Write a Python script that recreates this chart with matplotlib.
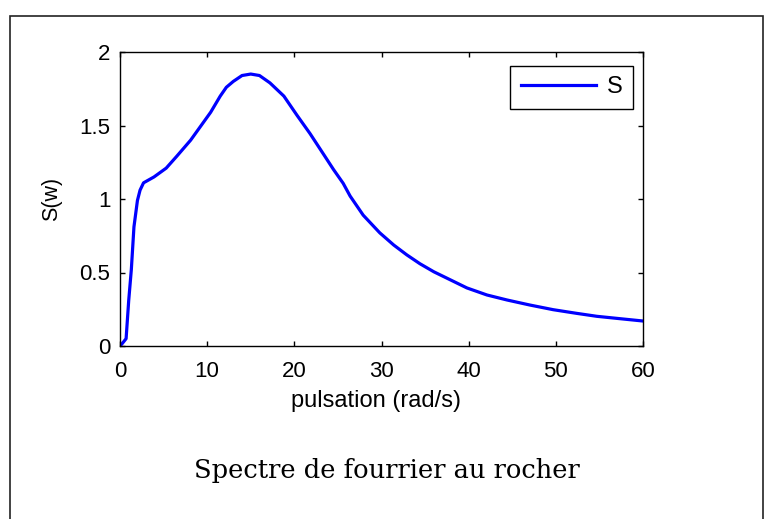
import matplotlib
matplotlib.use('Agg')
import matplotlib.pyplot as plt
from matplotlib.patches import Rectangle

# spectre de fourrier au rocher
w = [0, 0.3, 0.7, 1.0, 1.3, 1.6, 2.0, 2.3, 2.7, 3.9, 5.3, 6.5, 8.1, 10.4,
     11.5, 12.2, 13.0, 14.0, 15.0, 16.0, 17.2, 18.8, 20.3, 21.8, 23.4, 24.5,
     25.6, 26.4, 27.9, 29.8, 31.4, 32.9, 34.4, 36.0, 37.9, 39.8, 42.1, 44.4,
     47.0, 49.7, 52.4, 54.7, 57.0, 60]
S = [0, 0.02, 0.05, 0.31, 0.52, 0.81, 0.99, 1.06, 1.11, 1.15, 1.21, 1.29,
     1.40, 1.59, 1.70, 1.76, 1.80, 1.84, 1.85, 1.84, 1.79, 1.70, 1.57, 1.445,
     1.30, 1.20, 1.107, 1.02, 0.89, 0.77, 0.687, 0.62, 0.56, 0.505, 0.45,
     0.395, 0.347, 0.313, 0.279, 0.247, 0.222, 0.202, 0.188, 0.17]
xticks = [0, 10, 20, 30, 40, 50, 60]
yticks = [0, 0.5, 1, 1.5, 2]
yticklabels = ['0', '0.5', '1', '1.5', '2']

plt.rcParams['font.family'] = ['Liberation Sans', 'DejaVu Sans']

fig = plt.figure(figsize=(7.68, 5.19), dpi=100)
ax = fig.add_axes([120 / 768, 1 - 346 / 519, 523 / 768, 294 / 519])

ax.plot(w, S, color='#0000ff', lw=2.3, label='S')
ax.set_xlim(0, 60)
ax.set_ylim(0, 2)
ax.set_xticks(xticks)
ax.set_yticks(yticks)
ax.set_yticklabels(yticklabels)
ax.tick_params(direction='in', top=True, right=True, length=3.5, width=1,
               labelsize=16)
ax.tick_params(axis='x', pad=11)
ax.tick_params(axis='y', pad=7)
for sp in ax.spines.values():
    sp.set_linewidth(1.0)

ax.set_xlabel('pulsation (rad/s)', fontsize=17)
ax.xaxis.set_label_coords(0.49, -0.148)
ax.set_ylabel('S(w)', fontsize=15.5)
ax.yaxis.set_label_coords(-0.111, 0.5)

leg = ax.legend(loc='upper right', bbox_to_anchor=(0.981, 0.953),
                borderaxespad=0, fontsize=17, handlelength=3.2,
                fancybox=False, framealpha=1, edgecolor='black',
                borderpad=0.45, handletextpad=0.45)
leg.get_frame().set_linewidth(1.0)

fig.text(387 / 768, 1 - 478 / 519, 'Spectre de fourrier au rocher',
         ha='center', va='baseline', fontsize=18.5, family='DejaVu Serif')

# cadre du document
fig.patches.append(Rectangle((10 / 768, -0.05), 753 / 768, 1.05 - 16 / 519,
                             transform=fig.transFigure, fill=False,
                             edgecolor='#222222', lw=1.2))

fig.savefig('out.png', dpi=100)
